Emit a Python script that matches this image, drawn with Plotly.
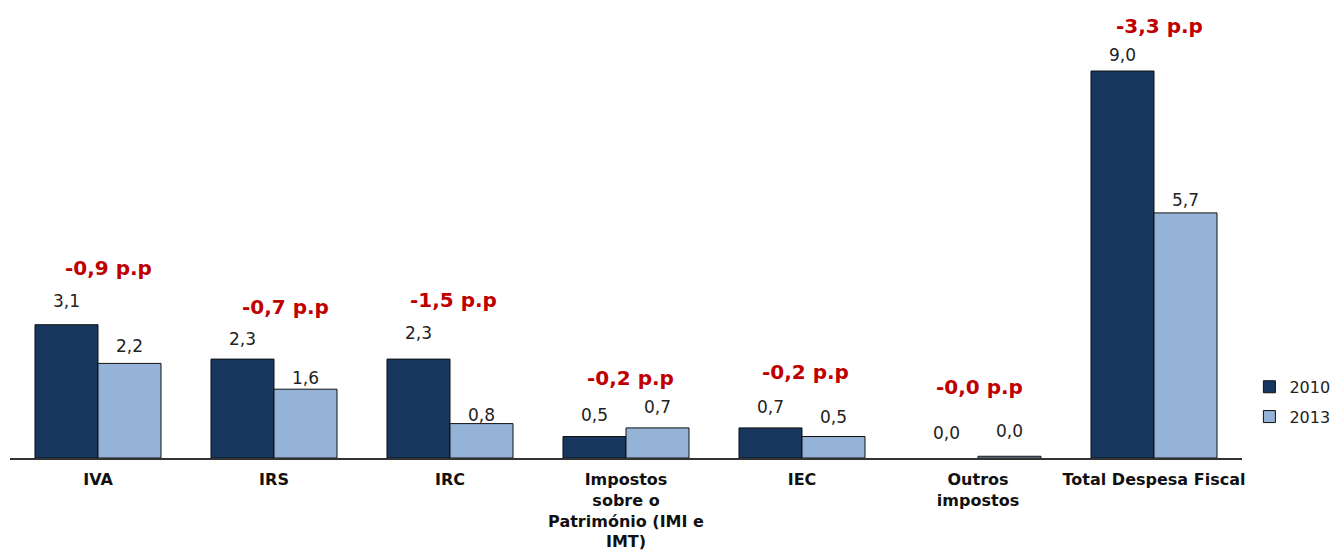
import plotly.graph_objects as go

categories = ["IVA", "IRS", "IRC", "Impostos sobre o Património (IMI e IMT)",
              "IEC", "Outros impostos", "Total Despesa Fiscal"]
tick_labels = ["IVA", "IRS", "IRC", "Impostos<br>sobre o<br>Património (IMI e<br>IMT)",
               "IEC", "Outros<br>impostos", "Total Despesa Fiscal"]
values_2010 = [3.1, 2.3, 2.3, 0.5, 0.7, 0.0, 9.0]
values_2013 = [2.2, 1.6, 0.8, 0.7, 0.5, 0.04, 5.7]
diff_labels = ["-0,9 p.p", "-0,7 p.p", "-1,5 p.p", "-0,2 p.p", "-0,2 p.p", "-0,0 p.p", "-3,3 p.p"]

# styling / placement (pixels)
shift_2010 = [24, 20, 26, 22, 21, 25, 16]
shift_2013 = [17, 11, 9, 21, 20, 25, 13]
diff_yshift = [57, 52, 59, 50, 56, 69, 45]
diff_xshift = [10, 11, 3, 4, 3, 1, 5]
FONT = "DejaVu Sans"
DARK = "#17375E"
LIGHT = "#95B3D7"

def fmt(v):
    return f"{v:.1f}".replace(".", ",")

def outline_widths(vals):
    return [1 if v > 0 else 0 for v in vals]

fig = go.Figure()
fig.add_trace(go.Bar(x=categories, y=values_2010, name="2010",
                     marker=dict(color=DARK, line=dict(color="#111111", width=outline_widths(values_2010))),
                     legendgroup="a"))
fig.add_trace(go.Bar(x=categories, y=values_2013, name="2013",
                     marker=dict(color=LIGHT, line=dict(color="#111111", width=outline_widths(values_2013))),
                     legendgroup="b"))

annotations = []
for i, c in enumerate(categories):
    annotations.append(dict(x=c, y=values_2010[i], xref="x", yref="y", text=fmt(values_2010[i]),
                            showarrow=False, xshift=-31.5, yshift=shift_2010[i], yanchor="middle",
                            font=dict(family=FONT, size=17, color="#222222")))
    annotations.append(dict(x=c, y=values_2013[i], xref="x", yref="y", text=fmt(values_2013[i]),
                            showarrow=False, xshift=31.5, yshift=shift_2013[i], yanchor="middle",
                            font=dict(family=FONT, size=17, color="#222222")))
    annotations.append(dict(x=c, y=max(values_2010[i], values_2013[i]), xref="x", yref="y",
                            text=diff_labels[i], showarrow=False, xshift=diff_xshift[i],
                            yshift=diff_yshift[i], yanchor="middle",
                            font=dict(family=FONT, size=20, color="#C00000", weight="bold")))

fig.update_layout(
    width=1333, height=557,
    margin=dict(l=10, r=91, t=28, b=99, autoexpand=False),
    paper_bgcolor="white", plot_bgcolor="white",
    barmode="group", bargap=0.284, bargroupgap=0,
    annotations=annotations,
    legend=dict(x=1.006, y=0.205, xanchor="left", yanchor="top",
                font=dict(family=FONT, size=16, color="#222222"),
                tracegroupgap=6, itemwidth=30, bgcolor="rgba(0,0,0,0)"),
    xaxis=dict(tickmode="array", tickvals=categories, ticktext=tick_labels,
               showline=True, linecolor="#333333", linewidth=1.5, showgrid=False,
               ticks="", ticklabelstandoff=6,
               tickfont=dict(family=FONT, size=16, color="#111111", weight="bold")),
    yaxis=dict(range=[0, 10], visible=False, showgrid=False, zeroline=False),
)

fig.write_html("out.html")
